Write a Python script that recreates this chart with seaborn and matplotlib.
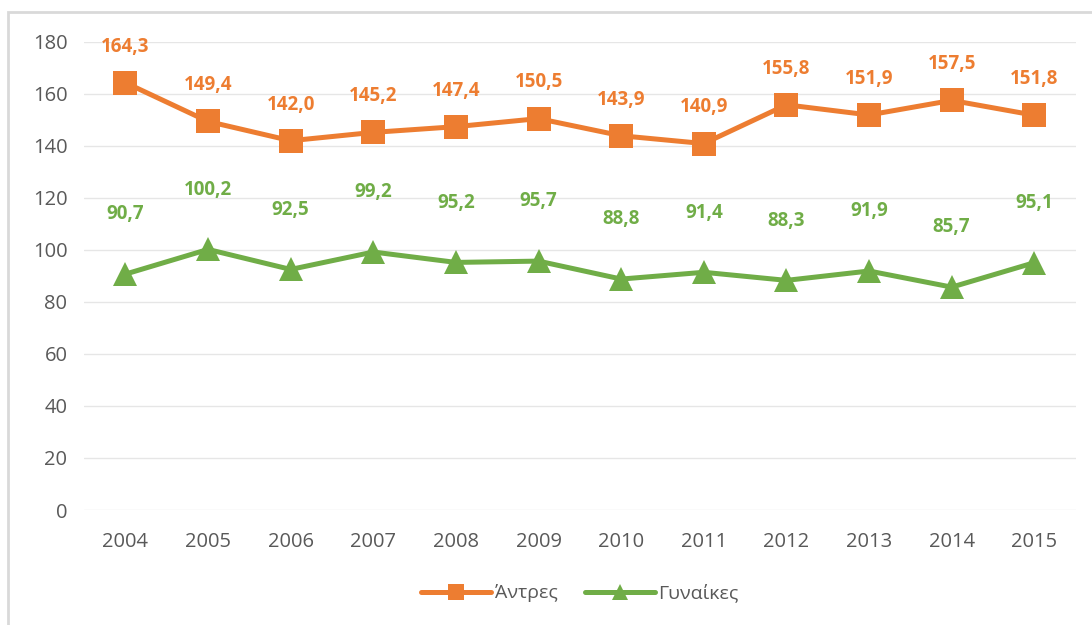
import pandas as pd
import matplotlib.pyplot as plt
import seaborn as sns
from matplotlib.patches import Rectangle

# data
years = ["2004", "2005", "2006", "2007", "2008", "2009",
         "2010", "2011", "2012", "2013", "2014", "2015"]
men = [164.3, 149.4, 142.0, 145.2, 147.4, 150.5, 143.9, 140.9, 155.8, 151.9, 157.5, 151.8]
women = [90.7, 100.2, 92.5, 99.2, 95.2, 95.7, 88.8, 91.4, 88.3, 91.9, 85.7, 95.1]
series_names = ["Άντρες", "Γυναίκες"]

orange = "#ED7D31"
green = "#70AD47"

sns.set_style("white")
plt.rcParams["font.family"] = ["Open Sans", "DejaVu Sans"]

df = pd.DataFrame({
    "x": list(range(len(years))) * 2,
    "value": men + women,
    "series": [series_names[0]] * len(years) + [series_names[1]] * len(years),
})

fig = plt.figure(figsize=(10.92, 6.25), dpi=100)
ax = fig.add_axes([0.077, 0.184, 0.908, 0.749])

sns.lineplot(
    data=df, x="x", y="value", hue="series", style="series",
    markers={series_names[0]: "s", series_names[1]: "^"},
    dashes=False, palette={series_names[0]: orange, series_names[1]: green},
    linewidth=3.6, markersize=17, markeredgewidth=0, ax=ax,
)

# data labels
for i, v in enumerate(men):
    ax.annotate(f"{v:.1f}".replace(".", ","), (i, v), xytext=(0, 26),
                textcoords="offset points", ha="center", va="center",
                color=orange, fontsize=13.5, fontweight="bold")
for i, v in enumerate(women):
    ax.annotate(f"{v:.1f}".replace(".", ","), (i, v), xytext=(0, 43),
                textcoords="offset points", ha="center", va="center",
                color=green, fontsize=13.5, fontweight="bold")

ax.set_xlim(-0.5, len(years) - 0.5)
ax.set_ylim(0, 180)
ax.set_yticks(range(0, 181, 20))
ax.set_xticks(range(len(years)))
ax.set_xticklabels(years)
ax.set_xlabel("")
ax.set_ylabel("")
ax.grid(axis="y", color="#E6E6E6", linewidth=1)
ax.set_axisbelow(True)
for s in ax.spines.values():
    s.set_visible(False)
ax.tick_params(axis="both", length=0, labelsize=14.5, labelcolor="#595959", pad=12)
ax.tick_params(axis="x", pad=16)

leg = ax.legend(loc="upper center", bbox_to_anchor=(0.5, -0.12), ncol=2, frameon=False,
                fontsize=14, labelcolor="#595959", handlelength=3.6,
                columnspacing=1.4, handletextpad=0.2, markerscale=0.7)

# outer border
fig.patches.append(Rectangle((8 / 1092, -0.1), 1.2, 1 - 12 / 625 + 0.1,
                             transform=fig.transFigure, fill=False,
                             edgecolor="#D9D9D9", linewidth=2))

fig.savefig("out.png", dpi=100)
